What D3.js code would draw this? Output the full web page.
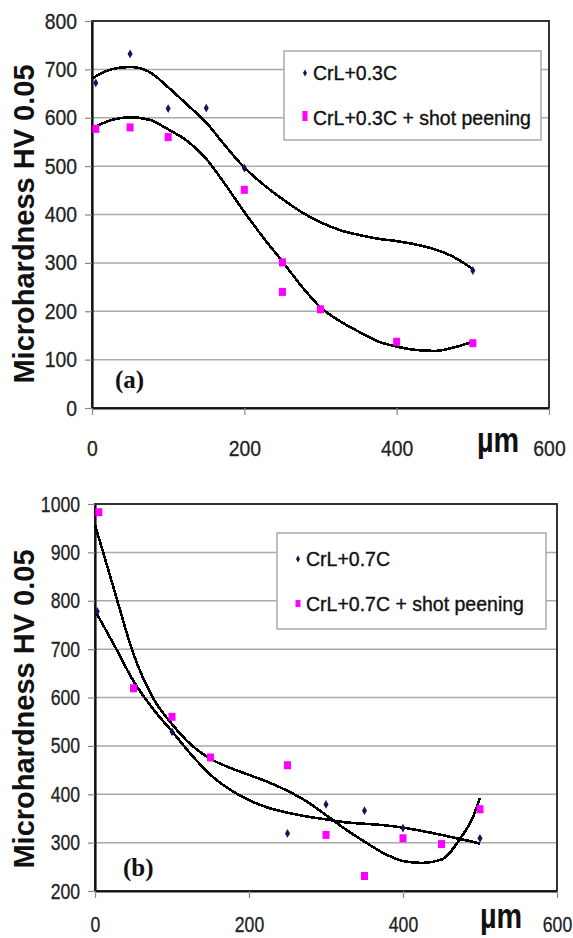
<!DOCTYPE html>
<html lang="en">
<head>
<meta charset="UTF-8">
<title>Microhardness profiles</title>
<script src="https://d3js.org/d3.v7.min.js"></script>
<style>
  body { margin: 0; background: #fff; }
  text { font-family: "Liberation Sans", Arial, sans-serif; }
</style>
</head>
<body>
<div id="chart"></div>
<script>
// ---- panel (a) : CrL+0.3C ----
var aNames = ["CrL+0.3C", "CrL+0.3C + shot peening"];
var aBaseX = [5, 50, 100, 150, 200, 500];
var aBaseY = [672, 732, 619, 620, 496, 284];
var aPeenX = [5, 50, 100, 200, 250, 250, 300, 400, 500];
var aPeenY = [577, 580, 560, 451, 301, 240, 204, 137, 134];
// trend lines
var aFitX = [0, 25, 50, 75, 100, 125, 150, 175, 200, 225, 250, 275, 300, 325, 350, 375, 400, 425, 450, 475, 500];
var aFitBaseY = [681, 700, 705, 695, 663, 627, 590, 542, 497, 462, 432, 405, 384, 368, 358, 350, 345, 338, 328, 312, 287];
var aFitPeenY = [578, 595, 601, 596, 576, 552, 515, 462, 405, 352, 303, 252, 208, 180, 158, 138, 127, 120, 118, 125, 137];
var aYTicks = [0, 100, 200, 300, 400, 500, 600, 700, 800];

// ---- panel (b) : CrL+0.7C ----
var bNames = ["CrL+0.7C", "CrL+0.7C + shot peening"];
var bBaseX = [3, 100, 250, 300, 350, 400, 500];
var bBaseY = [778, 529, 319, 379, 366, 330, 309];
var bPeenX = [5, 50, 100, 150, 250, 300, 350, 400, 450, 500];
var bPeenY = [983, 619, 560, 476, 460, 316, 231, 309, 297, 369];
var bFitX = [0, 25, 50, 75, 100, 125, 150, 175, 200, 225, 250, 275, 300, 325, 350, 375, 400, 425, 450, 475, 490, 500];
var bFitBaseY = [780, 708, 634, 577, 530, 482, 440, 410, 388, 372, 362, 354, 348, 342, 339, 336, 331, 324, 316, 307, 302, 298];
var bFitPeenY = [957, 822, 690, 600, 545, 502, 473, 455, 440, 425, 407, 385, 357, 328, 302, 278, 262, 258, 265, 310, 350, 392];
var bYTicks = [200, 300, 400, 500, 600, 700, 800, 900, 1000];

var xTicks = [0, 200, 400, 600];

var svg = d3.select("#chart").append("svg")
    .attr("width", 573).attr("height", 938)
    .style("background", "#fff");

function zip(xs, ys) {
    return xs.map(function (v, i) { return [v, ys[i]]; });
}

function drawPanel(p) {
    var x = d3.scaleLinear().domain([0, 600]).range(p.xRange);
    var y = d3.scaleLinear().domain(p.yDomain).range(p.yRange);
    var g = svg.append("g");

    // gridlines
    g.selectAll(".grid").data(p.yTicks.slice(1, -1)).enter().append("line")
        .attr("x1", p.xRange[0]).attr("x2", p.xRange[1])
        .attr("y1", y).attr("y2", y)
        .attr("stroke", "#a9a9a9").attr("stroke-width", 1.5);

    // frame (top / right)
    g.append("rect")
        .attr("x", p.xRange[0]).attr("y", p.yRange[1])
        .attr("width", p.xRange[1] - p.xRange[0])
        .attr("height", p.yRange[0] - p.yRange[1])
        .attr("fill", "none").attr("stroke", "#333").attr("stroke-width", 2);

    // axes
    var fmt = d3.format("d");
    var ya = g.append("g").attr("transform", "translate(" + p.xRange[0] + ",0)")
        .call(d3.axisLeft(y).tickValues(p.yTicks).tickFormat(fmt)
            .tickSize(7).tickSizeOuter(0).tickPadding(8));
    var xa = g.append("g").attr("transform", "translate(0," + p.yRange[0] + ")")
        .call(d3.axisBottom(x).tickValues(xTicks).tickFormat(fmt)
            .tickSize(7).tickSizeOuter(0));
    [ya, xa].forEach(function (a) {
        a.select(".domain").attr("stroke", "#111").attr("stroke-width", 2.2);
        a.selectAll(".tick line").attr("stroke", "#888").attr("stroke-width", 1.2);
        a.selectAll("text").attr("fill", "#222")
            .attr("stroke", "#222").attr("stroke-width", 0.3)
            .style("font-size", "22px").style("font-family", "'Liberation Sans', Arial, sans-serif");
    });
    ya.selectAll("text").attr("x", -15 / p.sx).attr("transform", "scale(" + p.sx + ",1)");
    xa.selectAll("text").attr("y", p.xLabelY).attr("dy", 0)
        .attr("transform", "scale(" + p.sx + ",1)");

    // micron unit
    g.append("text")
        .attr("transform", "translate(" + p.unit[0] + "," + p.unit[1] + ") scale(0.8,1)")
        .style("font-size", "36px").style("font-weight", "bold")
        .attr("fill", "#111").text("\u00b5m");

    // y title
    g.append("text")
        .attr("transform", "translate(34," + p.titleY + ") rotate(-90)")
        .attr("text-anchor", "middle")
        .style("font-size", "29px").style("font-weight", "bold")
        .attr("fill", "#111").text("Microhardness HV 0.05");

    // panel tag
    g.append("text")
        .attr("x", p.tag[0]).attr("y", p.tag[1])
        .style("font-family", "'Liberation Serif', 'Times New Roman', serif")
        .style("font-size", "25px").style("font-weight", "bold")
        .attr("fill", "#111").text(p.tagText);

    // trend lines
    var line = d3.line()
        .x(function (d) { return x(d[0]); })
        .y(function (d) { return y(d[1]); })
        .curve(d3.curveMonotoneX);
    [p.fitBase, p.fitPeen].forEach(function (pts) {
        g.append("path").datum(pts)
            .attr("d", line)
            .attr("fill", "none").attr("stroke", "#000")
            .attr("stroke-width", 2.6)
            .attr("shape-rendering", "crispEdges");
    });

    // points
    g.selectAll(".peen").data(p.peen).enter().append("rect")
        .attr("x", function (d) { return x(d[0]) - 3.5; })
        .attr("y", function (d) { return y(d[1]) - 4; })
        .attr("width", 7).attr("height", 8)
        .attr("fill", "#ff00ff");
    g.selectAll(".base").data(p.base).enter().append("path")
        .attr("d", d3.symbol().type(d3.symbolDiamond).size(22))
        .attr("transform", function (d) { return "translate(" + x(d[0]) + "," + y(d[1]) + ")"; })
        .attr("fill", "#14145a");

    // legend
    var L = p.legend;
    var lg = g.append("g");
    lg.append("rect")
        .attr("x", L.x).attr("y", L.y).attr("width", L.w).attr("height", L.h)
        .attr("fill", "#fff").attr("stroke", "#aaa").attr("stroke-width", 1.5);
    lg.append("path")
        .attr("d", d3.symbol().type(d3.symbolDiamond).size(14))
        .attr("transform", "translate(" + (L.x + 21) + "," + (L.row1 - 7) + ")")
        .attr("fill", "#14145a");
    lg.append("rect")
        .attr("x", L.x + 18.5).attr("y", L.row2 - 4 - L.mh)
        .attr("width", 5).attr("height", L.mh)
        .attr("fill", "#ff00ff");
    [L.row1, L.row2].forEach(function (ry, i) {
        lg.append("text")
            .attr("x", L.x + 29).attr("y", ry)
            .style("font-size", "19.5px").attr("fill", "#111")
            .attr("stroke", "#111").attr("stroke-width", 0.35)
            .text(p.names[i]);
    });
}

drawPanel({
    xRange: [92, 549], yDomain: [0, 800], yRange: [408, 21], yTicks: aYTicks,
    sx: 0.88, xLabelY: 48.5, unit: [477, 452], titleY: 224,
    tag: [115, 388], tagText: "(a)",
    base: zip(aBaseX, aBaseY), peen: zip(aPeenX, aPeenY),
    fitBase: zip(aFitX, aFitBaseY), fitPeen: zip(aFitX, aFitPeenY),
    names: aNames,
    legend: { x: 284, y: 51, w: 257, h: 89, row1: 80, row2: 125, mh: 10 }
});

drawPanel({
    xRange: [95, 557], yDomain: [200, 1000], yRange: [891, 504], yTicks: bYTicks,
    sx: 0.8, xLabelY: 40.7, unit: [480, 928], titleY: 709,
    tag: [123, 876], tagText: "(b)",
    base: zip(bBaseX, bBaseY), peen: zip(bPeenX, bPeenY),
    fitBase: zip(bFitX, bFitBaseY), fitPeen: zip(bFitX, bFitPeenY),
    names: bNames,
    legend: { x: 277, y: 533, w: 269, h: 96, row1: 566, row2: 611, mh: 7 }
});
</script>
</body>
</html>
